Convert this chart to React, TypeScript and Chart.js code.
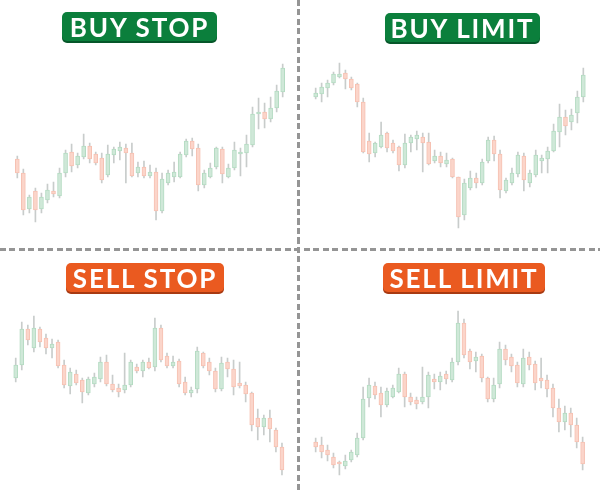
import React, { useEffect, useRef } from 'react';
import { Chart, registerables } from 'chart.js';

Chart.register(...registerables);

// candle colours (the reference is a faded screenshot, so everything is pale)
const UP_FILL = '#cfe8d8';
const UP_EDGE = '#b4dbc2';
const DOWN_FILL = '#fbd5ca';
const DOWN_EDGE = '#f6c1b2';
const WICK = '#c8cccb';

// BUY STOP
const buyStopOpen = [91, 77, 41, 59, 41, 50, 59, 54, 77, 98, 85, 93, 104, 96, 92, 75, 95, 99, 102, 97, 77, 83, 74, 78, 39, 67, 73, 73, 95, 109, 102, 65, 73, 83, 101, 73, 82, 96, 97, 105, 136, 138, 131, 142, 158];
const buyStopHigh = [94, 81, 55, 62, 57, 66, 68, 82, 100, 106, 97, 116, 107, 98, 97, 105, 103, 108, 106, 107, 88, 89, 85, 82, 77, 80, 88, 98, 111, 112, 106, 80, 87, 103, 103, 86, 108, 102, 115, 143, 152, 147, 153, 165, 186];
const buyStopLow = [72, 35, 37, 28, 37, 47, 53, 52, 73, 78, 82, 91, 87, 85, 67, 73, 87, 90, 67, 73, 73, 72, 72, 30, 37, 65, 68, 72, 93, 94, 59, 62, 72, 81, 67, 72, 80, 74, 83, 103, 121, 122, 128, 138, 153];
const buyStopClose = [77, 40, 53, 40, 53, 60, 56, 77, 97, 84, 94, 104, 91, 87, 70, 96, 101, 103, 97, 74, 83, 74, 78, 39, 71, 77, 78, 96, 109, 101, 65, 77, 82, 102, 76, 82, 100, 98, 106, 136, 138, 131, 142, 159, 182];

// BUY LIMIT
const buyLimitOpen = [153, 156, 162, 167, 173, 177, 171, 166, 148, 109, 97, 103, 117, 107, 103, 85, 107, 111, 113, 108, 89, 94, 86, 91, 73, 35, 62, 72, 67, 89, 110, 96, 59, 67, 76, 94, 67, 75, 89, 91, 99, 118, 133, 128, 137, 153];
const buyLimitHigh = [162, 167, 170, 178, 187, 180, 173, 167, 152, 117, 108, 128, 118, 110, 104, 116, 115, 119, 117, 117, 100, 98, 97, 92, 73, 71, 79, 77, 91, 113, 114, 100, 72, 82, 98, 97, 80, 100, 95, 103, 126, 146, 140, 141, 159, 182];
const buyLimitLow = [151, 148, 153, 165, 172, 161, 160, 143, 97, 88, 93, 102, 98, 97, 79, 82, 98, 100, 78, 85, 87, 83, 83, 72, 22, 30, 60, 62, 65, 87, 89, 52, 57, 65, 73, 59, 63, 73, 77, 77, 98, 103, 115, 120, 127, 148];
const buyLimitClose = [157, 163, 167, 176, 176, 171, 162, 148, 98, 96, 107, 115, 102, 99, 85, 107, 113, 115, 107, 86, 94, 87, 90, 73, 33, 67, 72, 67, 88, 110, 96, 60, 70, 77, 95, 70, 77, 95, 92, 99, 119, 133, 124, 135, 153, 175];

// SELL STOP
const sellStopOpen = [115, 128, 164, 145, 164, 155, 145, 151, 128, 107, 119, 113, 100, 109, 114, 131, 109, 105, 103, 108, 126, 122, 131, 126, 165, 137, 127, 132, 111, 100, 104, 140, 131, 122, 104, 131, 124, 110, 108, 100, 75, 66, 75, 63, 46];
const sellStopHigh = [135, 171, 168, 177, 166, 159, 154, 153, 133, 125, 123, 115, 116, 120, 136, 138, 118, 109, 140, 133, 129, 133, 135, 175, 168, 140, 137, 134, 116, 106, 146, 141, 135, 125, 136, 135, 133, 131, 111, 101, 84, 78, 83, 65, 50];
const sellStopLow = [111, 123, 148, 141, 146, 139, 135, 125, 105, 99, 108, 90, 98, 106, 111, 107, 101, 96, 100, 106, 120, 116, 124, 122, 131, 125, 125, 106, 98, 96, 100, 125, 118, 101, 102, 116, 98, 105, 91, 62, 53, 58, 51, 41, 18];
const sellStopClose = [128, 164, 153, 165, 151, 145, 149, 127, 108, 121, 110, 101, 114, 116, 131, 109, 103, 101, 108, 131, 122, 131, 125, 165, 133, 127, 131, 109, 100, 103, 142, 127, 122, 104, 130, 124, 106, 107, 99, 68, 66, 75, 64, 46, 23];

// SELL LIMIT
const sellLimitOpen = [51, 48, 43, 36, 31, 27, 33, 38, 55, 95, 107, 100, 88, 96, 101, 119, 96, 93, 91, 96, 114, 111, 119, 113, 131, 170, 142, 132, 137, 115, 94, 109, 144, 136, 128, 109, 136, 129, 115, 113, 105, 85, 71, 80, 68, 51];
const sellLimitHigh = [55, 56, 48, 40, 32, 38, 43, 60, 106, 115, 111, 106, 105, 108, 125, 121, 100, 96, 126, 121, 119, 121, 122, 135, 182, 174, 144, 141, 139, 116, 115, 151, 148, 139, 131, 144, 141, 132, 135, 118, 109, 94, 87, 85, 75, 56];
const sellLimitLow = [41, 35, 32, 25, 18, 24, 31, 36, 53, 86, 94, 76, 86, 95, 100, 86, 88, 84, 89, 85, 104, 103, 109, 111, 128, 135, 124, 121, 111, 91, 91, 105, 128, 121, 106, 106, 123, 103, 105, 96, 76, 61, 63, 56, 45, 23];
const sellLimitClose = [46, 41, 38, 28, 29, 32, 41, 55, 94, 108, 98, 88, 102, 105, 119, 96, 91, 89, 96, 118, 111, 117, 114, 131, 170, 138, 131, 136, 115, 94, 108, 144, 133, 127, 110, 135, 128, 110, 112, 104, 85, 71, 80, 68, 51, 29];

type CandleProps = {
  open: number[];
  high: number[];
  low: number[];
  close: number[];
  yMin: number;
  yMax: number;
  padLeft: number;
  padRight: number;
  left: number;
  top: number;
  width: number;
  height: number;
};

const CandlePanel: React.FC<CandleProps> = (p) => {
  const canvasRef = useRef<HTMLCanvasElement>(null);

  useEffect(() => {
    if (!canvasRef.current) return;
    const up = p.open.map((o, i) => p.close[i] >= o);
    const chart = new Chart(canvasRef.current, {
      type: 'bar',
      data: {
        labels: p.open.map((_, i) => String(i + 1)),
        datasets: [
          {
            data: p.open.map((o, i) => [o, p.close[i]]) as any,
            backgroundColor: up.map((u) => (u ? UP_FILL : DOWN_FILL)),
            borderColor: up.map((u) => (u ? UP_EDGE : DOWN_EDGE)),
            borderWidth: 1,
            borderSkipped: false,
            barThickness: 4,
            grouped: false,
          },
          {
            data: p.low.map((l, i) => [l, p.high[i]]) as any,
            backgroundColor: WICK,
            borderWidth: 0,
            barThickness: 1,
            grouped: false,
          },
        ],
      },
      options: {
        animation: false,
        responsive: true,
        maintainAspectRatio: false,
        layout: { padding: { left: p.padLeft, right: p.padRight, top: 0, bottom: 0 } },
        scales: {
          x: { display: false, offset: true },
          y: { display: false, min: p.yMin, max: p.yMax },
        },
        plugins: { legend: { display: false }, tooltip: { enabled: false } },
      },
    });
    return () => chart.destroy();
  }, []);

  return (
    <div style={{ position: 'absolute', left: p.left, top: p.top, width: p.width, height: p.height }}>
      <canvas ref={canvasRef}></canvas>
    </div>
  );
};

const Badge: React.FC<{ text: string; bg: string; edge: string; left: number; top: number; width: number }> = ({ text, bg, edge, left, top, width }) => (
  <div
    style={{
      position: 'absolute',
      left,
      top,
      width,
      height: 29,
      background: bg,
      borderRadius: 5,
      boxShadow: `0 2px 0 ${edge}`,
      color: '#fff',
      fontFamily: 'Lato, sans-serif',
      fontWeight: 700,
      fontSize: 26,
      letterSpacing: 1.8,
      lineHeight: '30px',
      textAlign: 'center',
      whiteSpace: 'nowrap',
    }}
  >
    {text}
  </div>
);

const dashH = 'repeating-linear-gradient(to right, #959595 0 6px, transparent 6px 9.5px)';
const dashV = 'repeating-linear-gradient(to bottom, #959595 0 6px, transparent 6px 9.5px)';

export default function App() {
  useEffect(() => {
    document.body.style.margin = '0';
  }, []);

  return (
    <div style={{ position: 'relative', width: 600, height: 493, background: '#fff', overflow: 'hidden' }}>
      <CandlePanel open={buyStopOpen} high={buyStopHigh} low={buyStopLow} close={buyStopClose}
        yMin={2} yMax={250} padLeft={14.3} padRight={11.3} left={0} top={0} width={297} height={248} />
      <CandlePanel open={buyLimitOpen} high={buyLimitHigh} low={buyLimitLow} close={buyLimitClose}
        yMin={2} yMax={250} padLeft={12.7} padRight={13.7} left={300} top={0} width={300} height={248} />
      <CandlePanel open={sellStopOpen} high={sellStopHigh} low={sellStopLow} close={sellStopClose}
        yMin={0} yMax={242} padLeft={12.7} padRight={12} left={0} top={251} width={297} height={242} />
      <CandlePanel open={sellLimitOpen} high={sellLimitHigh} low={sellLimitLow} close={sellLimitClose}
        yMin={0} yMax={242} padLeft={12.7} padRight={14.4} left={300} top={251} width={300} height={242} />

      <div style={{ position: 'absolute', left: 0, top: 248, width: 600, height: 3, background: dashH }} />
      <div style={{ position: 'absolute', left: 297, top: 0, width: 3, height: 493, background: dashV }} />

      <Badge text="BUY STOP" bg="#0b7f3c" edge="#06572a" left={62} top={12} width={155} />
      <Badge text="BUY LIMIT" bg="#0b7f3c" edge="#06572a" left={385} top={13} width={155} />
      <Badge text="SELL STOP" bg="#ea5a20" edge="#a83a12" left={66} top={263} width={158} />
      <Badge text="SELL LIMIT" bg="#ea5a20" edge="#a83a12" left={383} top={263} width={162} />
    </div>
  );
}
